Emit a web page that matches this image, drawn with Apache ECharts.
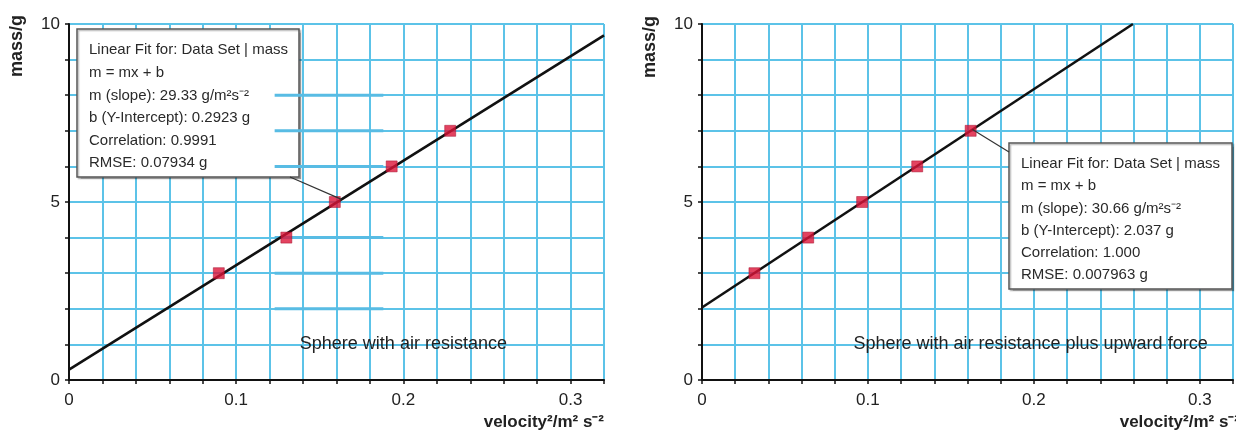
<!DOCTYPE html>
<html><head><meta charset="utf-8">
<script src="https://cdn.jsdelivr.net/npm/echarts@6/dist/echarts.min.js"></script>
<style>html,body{margin:0;padding:0;background:#fff}#c{width:1236px;height:436px}</style>
</head><body><div id="c"></div>
<script>
// ---- data ----
const xTickLabels = ['0', '0.1', '0.2', '0.3'];
const yTickLabels = ['0', '5', '10'];
const xMin = 0, xMax = 0.32, xStep = 0.02;
const yMin = 0, yMax = 10, yStep = 1;

const leftX = [0.0896, 0.130, 0.159, 0.193, 0.228];
const leftY = [3, 4, 5, 6, 7];
const leftSlope = 29.33, leftIntercept = 0.2923;
const leftFitRange = [0, 0.32];

const rightX = [0.0316, 0.064, 0.0965, 0.1297, 0.1619];
const rightY = [3, 4, 5, 6, 7];
const rightSlope = 30.66, rightIntercept = 2.037;
const rightFitRange = [0, 0.2597];

const ghostY = [2, 3, 4, 6, 7, 8];
const ghostXRange = [0.123, 0.188];

const leftBox = ['Linear Fit for: Data Set | mass', 'm = mx + b', 'm (slope): 29.33 g/m²s⁻²',
  'b (Y-Intercept): 0.2923 g', 'Correlation: 0.9991', 'RMSE: 0.07934 g'];
const rightBox = ['Linear Fit for: Data Set | mass', 'm = mx + b', 'm (slope): 30.66 g/m²s⁻²',
  'b (Y-Intercept): 2.037 g', 'Correlation: 1.000', 'RMSE: 0.007963 g'];
const leftCaption = 'Sphere with air resistance';
const rightCaption = 'Sphere with air resistance plus upward force';
const xName = 'velocity²/m² s⁻²';
const yName = 'mass/g';
const leftLeaderX = 0.163, rightLeaderX = 0.163;

// ---- chart ----
const FONT = '"Liberation Sans", Arial, sans-serif';
const GRID = '#5cc3e8';
const chart = echarts.init(document.getElementById('c'));

function xAxisCfg(i) {
  return {
    type: 'value', gridIndex: i, min: xMin, max: xMax, interval: xStep,
    axisLine: { show: true, onZero: false, lineStyle: { color: '#111', width: 2 } },
    axisTick: { show: true, length: 4, lineStyle: { color: '#111', width: 1.5 } },
    splitLine: { show: true, lineStyle: { color: GRID, width: 2 } },
    axisLabel: {
      margin: 12, fontSize: 17, color: '#222', fontFamily: FONT,
      formatter: v => { const s = String(Math.round(v * 100) / 100); return xTickLabels.includes(s) ? s : ''; }
    }
  };
}
function yAxisCfg(i) {
  return {
    type: 'value', gridIndex: i, min: yMin, max: yMax, interval: yStep,
    axisLine: { show: true, onZero: false, lineStyle: { color: '#111', width: 2 } },
    axisTick: { show: true, length: 4, lineStyle: { color: '#111', width: 1.5 } },
    splitLine: { show: true, lineStyle: { color: GRID, width: 2 } },
    axisLabel: {
      margin: 9, fontSize: 17, color: '#222', fontFamily: FONT,
      formatter: v => { const s = String(Math.round(v)); return yTickLabels.includes(s) ? s : ''; }
    }
  };
}
function pts(xs, ys) { return xs.map((x, i) => [x, ys[i]]); }
function fit(slope, b, r) { return r.map(x => [x, slope * x + b]); }
const ghostData = [];
ghostY.forEach(y => { ghostData.push([ghostXRange[0], y], [ghostXRange[1], y], '-'); });

const series = [
  { type: 'line', xAxisIndex: 0, yAxisIndex: 0, data: ghostData, symbol: 'none', silent: true,
    connectNulls: false, lineStyle: { color: '#58bce4', width: 3 }, z: 1 },
  { type: 'line', xAxisIndex: 0, yAxisIndex: 0, data: fit(leftSlope, leftIntercept, leftFitRange),
    symbol: 'none', lineStyle: { color: '#111', width: 2.6 }, z: 3 },
  { type: 'scatter', xAxisIndex: 0, yAxisIndex: 0, data: pts(leftX, leftY), symbol: 'rect', symbolSize: 11,
    itemStyle: { color: '#dc1438', borderColor: '#a30d2a', borderWidth: 0.6 }, z: 4 },
  { type: 'line', xAxisIndex: 1, yAxisIndex: 1, data: fit(rightSlope, rightIntercept, rightFitRange),
    symbol: 'none', lineStyle: { color: '#111', width: 2.6 }, z: 3 },
  { type: 'scatter', xAxisIndex: 1, yAxisIndex: 1, data: pts(rightX, rightY), symbol: 'rect', symbolSize: 11,
    itemStyle: { color: '#dc1438', borderColor: '#a30d2a', borderWidth: 0.6 }, z: 4 }
];

chart.setOption({
  animation: false,
  backgroundColor: '#fff',
  grid: [
    { left: 69, top: 24, width: 535, height: 356 },
    { left: 702, top: 24, width: 535, height: 356 }
  ],
  xAxis: [xAxisCfg(0), xAxisCfg(1)],
  yAxis: [yAxisCfg(0), yAxisCfg(1)],
  series
});

function boxGroup(lines, x, y, w, h, lh) {
  return {
    type: 'group', x: x, y: y, z: 100,
    children: [
      { type: 'rect', shape: { x: 0, y: 0, width: w, height: h },
        style: { fill: '#fff', stroke: '#555', lineWidth: 1.5, shadowColor: 'rgba(0,0,0,0.25)', shadowOffsetX: 1.5, shadowOffsetY: 1.5, shadowBlur: 1 } },
      { type: 'text', x: 12, y: 10,
        style: { text: lines.join('\n'), font: '15px ' + FONT, fill: '#2a2a2a', lineHeight: lh, verticalAlign: 'top', align: 'left' } }
    ]
  };
}

const lp = chart.convertToPixel({ xAxisIndex: 0, yAxisIndex: 0 }, [leftLeaderX, leftSlope * leftLeaderX + leftIntercept]);
const rp = chart.convertToPixel({ xAxisIndex: 1, yAxisIndex: 1 }, [rightLeaderX, rightSlope * rightLeaderX + rightIntercept]);
const lc = chart.convertToPixel({ xAxisIndex: 0, yAxisIndex: 0 }, [0.2, 1]);
const rc = chart.convertToPixel({ xAxisIndex: 1, yAxisIndex: 1 }, [0.198, 1]);

chart.setOption({
  graphic: [
    { type: 'line', z: 90, shape: { x1: 290, y1: 177, x2: lp[0], y2: lp[1] }, style: { stroke: '#333', lineWidth: 1.2 } },
    { type: 'line', z: 90, shape: { x1: 1009, y1: 152, x2: rp[0], y2: rp[1] }, style: { stroke: '#333', lineWidth: 1.2 } },
    boxGroup(leftBox, 77, 29, 222, 148, 22.6),
    boxGroup(rightBox, 1009, 143, 223, 146, 22.2),
    { type: 'text', z: 50, x: lc[0], y: lc[1], style: { text: leftCaption, font: '18px ' + FONT, fill: '#222', align: 'center', verticalAlign: 'middle' } },
    { type: 'text', z: 50, x: rc[0], y: rc[1], style: { text: rightCaption, font: '18px ' + FONT, fill: '#222', align: 'center', verticalAlign: 'middle' } },
    { type: 'text', z: 50, x: 17, y: 46, rotation: Math.PI / 2, style: { text: yName, font: 'bold 18px ' + FONT, fill: '#222', align: 'center', verticalAlign: 'middle' } },
    { type: 'text', z: 50, x: 650, y: 47, rotation: Math.PI / 2, style: { text: yName, font: 'bold 18px ' + FONT, fill: '#222', align: 'center', verticalAlign: 'middle' } },
    { type: 'text', z: 50, x: 604, y: 422, style: { text: xName, font: 'bold 17px ' + FONT, fill: '#222', align: 'right', verticalAlign: 'middle' } },
    { type: 'text', z: 50, x: 1240, y: 422, style: { text: xName, font: 'bold 17px ' + FONT, fill: '#222', align: 'right', verticalAlign: 'middle' } }
  ]
});
</script></body></html>
